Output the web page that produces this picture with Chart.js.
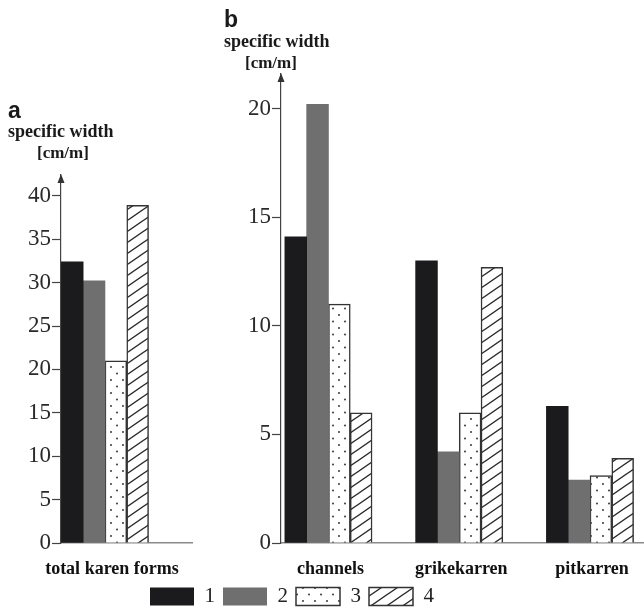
<!DOCTYPE html>
<html>
<head>
<meta charset="utf-8">
<script src="https://cdn.jsdelivr.net/npm/chart.js@4.4.1/dist/chart.umd.min.js"></script>
<style>
  html, body { margin: 0; padding: 0; background: #fff; }
  body { width: 644px; height: 609px; overflow: hidden; position: relative; }
  .wrap { position: absolute; top: 0; }
  #leftWrap { left: 0; width: 200px; height: 609px; }
  #rightWrap { left: -60px; width: 704px; height: 617px; }
  .lbl { position: absolute; line-height: 1; white-space: nowrap; color: #1a1a1a; }
  .panel { font-family: "Liberation Sans", Arial, sans-serif; font-weight: bold; font-size: 23px; }
  .unit { font-family: "Liberation Serif", "Times New Roman", serif; font-weight: bold; }
</style>
</head>
<body>
<div class="wrap" id="rightWrap"><canvas id="chartB" width="704" height="617"></canvas></div>
<div class="wrap" id="leftWrap"><canvas id="chartA" width="200" height="609"></canvas></div>

<div class="lbl panel" style="left:8px; top:99px;">a</div>
<div class="lbl unit" style="left:8px; top:122px; font-size:18px;">specific width</div>
<div class="lbl unit" style="left:37px; top:144px; font-size:17px;">[cm/m]</div>

<div class="lbl panel" style="left:224px; top:8px;">b</div>
<div class="lbl unit" style="left:224px; top:32px; font-size:18px;">specific width</div>
<div class="lbl unit" style="left:245px; top:54px; font-size:17px;">[cm/m]</div>

<script>
// panel a
const catsA = ['total karen forms'];
const a1 = [32.4];
const a2 = [30.2];
const a3 = [21.0];
const a4 = [38.9];
const yTicksA = [0, 5, 10, 15, 20, 25, 30, 35, 40];

// panel b
const catsB = ['channels', 'grikekarren', 'pitkarren'];
const b1 = [14.1, 13.0, 6.3];
const b2 = [20.2, 4.2, 2.9];
const b3 = [11.0, 6.0, 3.1];
const b4 = [6.0, 12.7, 3.9];
const yTicksB = [0, 5, 10, 15, 20];

const seriesNames = ['1', '2', '3', '4'];

function dotPattern() {
  const c = document.createElement('canvas');
  c.width = 12; c.height = 13;
  const g = c.getContext('2d');
  g.fillStyle = '#fff';
  g.fillRect(0, 0, 12, 13);
  g.fillStyle = '#444';
  [[3, 3], [9, 9.5]].forEach(p => {
    g.beginPath();
    g.arc(p[0], p[1], 1.05, 0, Math.PI * 2);
    g.fill();
  });
  return g.createPattern(c, 'repeat');
}

function hatchPattern() {
  const w = 16, h = 11;
  const c = document.createElement('canvas');
  c.width = w; c.height = h;
  const g = c.getContext('2d');
  g.fillStyle = '#fff';
  g.fillRect(0, 0, w, h);
  g.strokeStyle = '#2a2a2a';
  g.lineWidth = 1.4;
  g.beginPath();
  g.moveTo(-w, 2 * h); g.lineTo(2 * w, -h);
  g.moveTo(-2 * w, 2 * h); g.lineTo(w, -h);
  g.moveTo(0, 2 * h); g.lineTo(3 * w, -h);
  g.stroke();
  return g.createPattern(c, 'repeat');
}

const dots = dotPattern();
const hatch = hatchPattern();

const styles = [
  { backgroundColor: '#1b1b1d', borderWidth: 0, borderColor: '#1b1b1d' },
  { backgroundColor: '#6f6f6f', borderWidth: 0, borderColor: '#6f6f6f' },
  { backgroundColor: dots, borderWidth: 1.5, borderColor: '#333' },
  { backgroundColor: hatch, borderWidth: 1.5, borderColor: '#333' },
];

function makeDatasets(cats, seriesList) {
  return seriesList.map((vals, k) => Object.assign({
    label: seriesNames[k],
    data: cats.map((c, i) => ({ x: i, y: vals[i] })),
    barThickness: 21.8,
  }, styles[k]));
}

// arrow on top of the y axis
const axisArrow = {
  id: 'axisArrow',
  afterDraw(chart) {
    const { left, top } = chart.chartArea;
    const ctx = chart.ctx;
    ctx.save();
    ctx.fillStyle = '#333';
    ctx.beginPath();
    ctx.moveTo(left, top - 1);
    ctx.lineTo(left - 3.5, top + 8);
    ctx.lineTo(left + 3.5, top + 8);
    ctx.closePath();
    ctx.fill();
    ctx.restore();
  }
};

function buildOptions(cats, yTicks, o) {
  return {
    responsive: false,
    animation: false,
    layout: { padding: { top: o.top, right: o.right, left: 0, bottom: 0 } },
    plugins: {
      legend: o.legend,
      tooltip: { enabled: false },
    },
    scales: {
      x: {
        type: 'linear',
        offset: false,
        min: o.xMin,
        max: o.xMax,
        afterFit: s => { s.height = o.xHeight; },
        afterBuildTicks: s => { s.ticks = cats.map((c, i) => ({ value: i })); },
        grid: { display: false, drawTicks: false, offset: false },
        border: { display: true, color: '#8a8a8a', width: 1.5 },
        ticks: {
          autoSkip: false,
          maxRotation: 0,
          padding: 16,
          labelOffset: o.labelOffset,
          color: '#111',
          font: { family: '"Liberation Serif", "Times New Roman", serif', size: 18, weight: 'bold' },
          callback: v => cats[v] ?? '',
        },
      },
      y: {
        min: 0,
        max: o.yMax,
        afterFit: s => { s.width = o.yWidth; },
        afterBuildTicks: s => { s.ticks = yTicks.map(v => ({ value: v })); },
        grid: { display: true, drawOnChartArea: false, drawTicks: true, tickLength: 9, tickColor: '#444', tickWidth: 1.2 },
        border: { display: true, color: '#444', width: 1.2 },
        ticks: {
          autoSkip: false,
          padding: 1,
          color: '#2a2a2a',
          font: { family: '"Liberation Serif", "Times New Roman", serif', size: 23 },
        },
      },
    },
  };
}

new Chart(document.getElementById('chartA'), {
  type: 'bar',
  data: { datasets: makeDatasets(catsA, [a1, a2, a3, a4]) },
  options: buildOptions(catsA, yTicksA, {
    top: 175, right: 8, xMin: -0.5, xMax: 0.99, yMax: 42.4,
    yWidth: 61, xHeight: 66, labelOffset: 7,
    legend: { display: false },
  }),
  plugins: [axisArrow],
});

new Chart(document.getElementById('chartB'), {
  type: 'bar',
  data: { datasets: makeDatasets(catsB, [b1, b2, b3, b4]) },
  options: buildOptions(catsB, yTicksB, {
    top: 74, right: 0, xMin: -0.363, xMax: 2.413, yMax: 21.6,
    yWidth: 341, xHeight: 35, labelOffset: 2,
    legend: {
      display: true,
      position: 'bottom',
      align: 'center',
      labels: {
        boxWidth: 44,
        boxHeight: 18,
        padding: 8,
        color: '#222',
        font: { family: '"Liberation Serif", "Times New Roman", serif', size: 21 },
      },
    },
  }),
  plugins: [axisArrow],
});
</script>
</body>
</html>
